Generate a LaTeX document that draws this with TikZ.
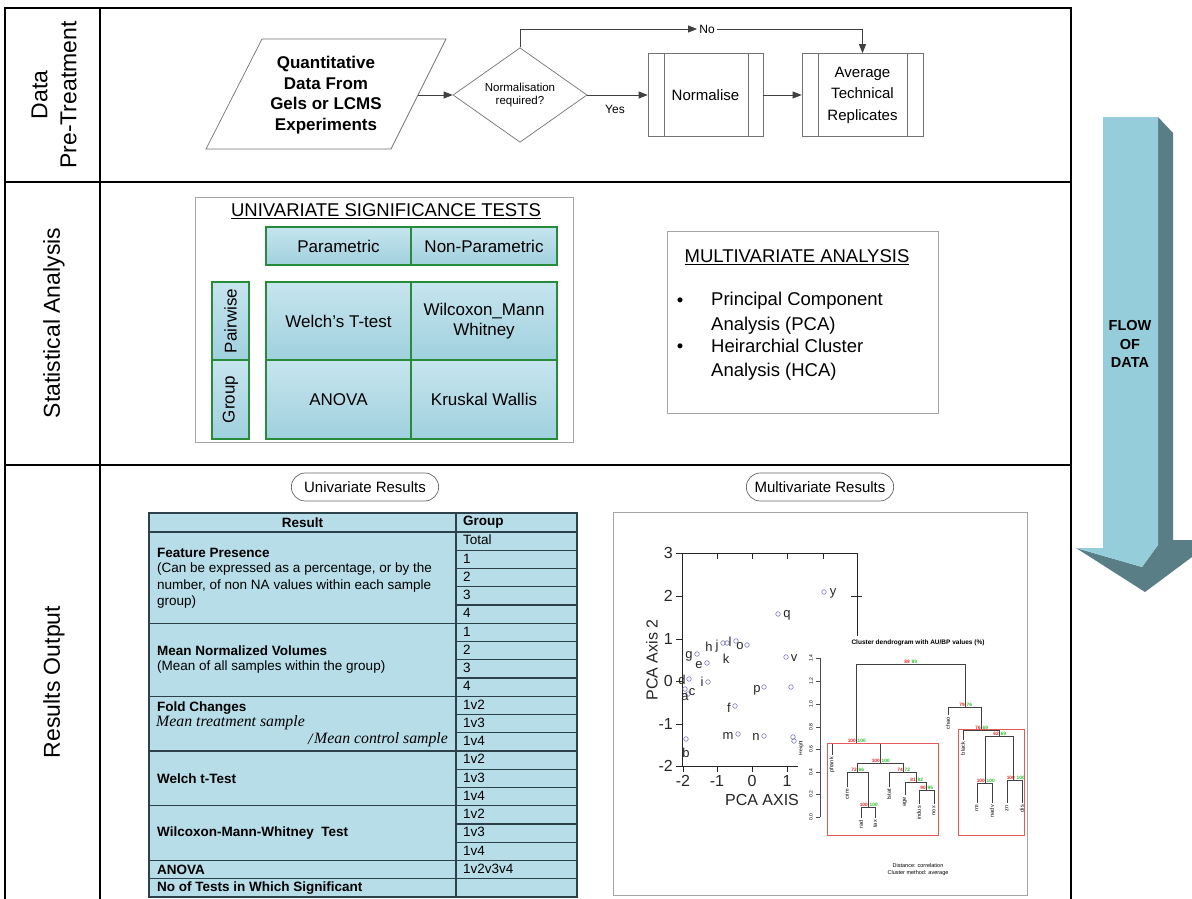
\documentclass[tikz,border=0pt]{standalone}
\usepackage{fontspec}
\setmainfont{Liberation Sans}
\newfontfamily\fmlfont{Liberation Serif}
\usetikzlibrary{shapes.geometric,shapes.misc,arrows.meta}
\definecolor{cellblue}{RGB}{160,208,222}
\definecolor{cellblueL}{RGB}{198,229,238}
\definecolor{cellgreen}{RGB}{38,140,58}
\definecolor{tblblue}{RGB}{182,221,232}
\definecolor{tblline}{RGB}{45,65,75}
\definecolor{arrlight}{RGB}{150,205,219}
\definecolor{arrdark}{RGB}{90,126,134}
\definecolor{ptcol}{RGB}{100,100,175}
\definecolor{aured}{RGB}{225,40,40}
\definecolor{bpgreen}{RGB}{40,190,40}
\definecolor{boxred}{RGB}{228,90,90}
\definecolor{lightframe}{RGB}{165,165,165}
\newcommand{\fsz}[2]{\fontsize{#1}{#2}\selectfont}
\tikzset{
  frameline/.style={line width=1.6pt, draw=black},
  rowlabel/.style={rotate=90, align=center, font=\fsz{23}{29}},
  flowline/.style={draw=black!75, line width=0.7pt},
  flowarrow/.style={flowline, -{Triangle[length=9pt,width=7pt]}},
  procbox/.style={draw=black!55, line width=0.7pt, rectangle, minimum width=#1, minimum height=83pt, inner sep=0pt, align=center, font=\fsz{15}{21.5}},
  cell/.style={draw=cellgreen, line width=1.5pt, top color=cellblueL, bottom color=cellblue, inner sep=0pt, align=center, font=\fsz{17}{20}},
  graybox/.style={draw=lightframe, line width=0.8pt, inner sep=0pt},
  pill/.style={draw=black!60, line width=0.7pt, rounded rectangle, minimum width=154pt, minimum height=28pt, font=\fsz{15}{18}},
  tline/.style={draw=tblline, line width=1.2pt},
  tbl/.style={anchor=west, inner sep=0pt, font=\fsz{13.5}{16.5}, align=left},
  tblb/.style={tbl, font=\fsz{13.5}{16.5}\bfseries},
  grp/.style={anchor=west, inner sep=0pt, font=\fsz{13.5}{16}},
  pcaax/.style={draw=black!85, line width=1pt},
  pt/.style={draw=ptcol, line width=0.5pt},
  ptl/.style={inner sep=0pt, font=\fsz{13}{14}, text=black!85},
  tick/.style={inner sep=0pt, font=\fsz{16}{17}, text=black!85},
  dline/.style={draw=black!75, line width=0.8pt},
  leaf/.style={rotate=90, anchor=east, inner sep=0pt, font=\fsz{5.5}{6}},
  au/.style={inner sep=0pt, font=\fsz{4.8}{5}\bfseries},
  tiny/.style={inner sep=0pt, font=\fsz{5.5}{7}},
}
\begin{document}
\begin{tikzpicture}[x=1pt,y=-1pt]
\useasboundingbox (0,0) rectangle (1192,899);
\fill[white] (0,0) rectangle (1192,899);

% ---------------- frame ----------------
\draw[frameline] (5,8) rectangle (1071,910);
\draw[frameline] (100,8) -- (100,910);
\draw[frameline] (5,182) -- (1071,182);
\draw[frameline] (5,465) -- (1071,465);
\node[rowlabel] (lab1) at (54,95) {Data\\Pre-Treatment};
\node[rowlabel] (lab2) at (54,323) {Statistical Analysis};
\node[rowlabel] (lab3) at (54,682) {Results Output};

% ---------------- row 1: pre-treatment flow ----------------
\draw[draw=black!55, line width=0.7pt] (262,39) -- (446,39) -- (391,149) -- (206,149) -- cycle;
\node[align=center, font=\fsz{17}{20.7}\bfseries] (src) at (326,95) {Quantitative\\Data From\\Gels or LCMS\\Experiments};
\coordinate (srcR) at (418,95);
\node[diamond, draw=black!55, line width=0.7pt, minimum width=134pt, minimum height=82pt, inner sep=0pt, align=center, font=\fsz{11.5}{13.5}] (dia) at (520,95) {Normalisation\\required?};
\node[procbox=115pt] (norm) at (705.5,95) {Normalise};
\draw[draw=black!55, line width=0.7pt] ([xshift=17pt]norm.north west) -- ([xshift=17pt]norm.south west);
\draw[draw=black!55, line width=0.7pt] ([xshift=-15pt]norm.north east) -- ([xshift=-15pt]norm.south east);
\node[procbox=121pt] (avg) at (862.5,95) {Average\\Technical\\Replicates};
\draw[draw=black!55, line width=0.7pt] ([xshift=17pt]avg.north west) -- ([xshift=17pt]avg.south west);
\draw[draw=black!55, line width=0.7pt] ([xshift=-16pt]avg.north east) -- ([xshift=-16pt]avg.south east);
\draw[flowarrow] (srcR) -- (dia.west);
\draw[flowarrow] (dia.east) -- (norm.west);
\node[font=\fsz{12}{14}, inner sep=0pt] (yes) at (615,109) {Yes};
\draw[flowarrow] (norm.east) -- (avg.west);
\node[font=\fsz{12}{14}, inner sep=2pt] (no) at (707,29) {No};
\draw[flowarrow] (dia.north) |- (no.west);
\draw[flowarrow] (no.east) -| (avg.north);

% ---------------- row 2: statistical analysis ----------------
\node[graybox, minimum width=378pt, minimum height=245pt] (uni) at (384,319.5) {};
\node[font=\fsz{18.5}{20}, inner sep=0pt] (uniT) at (386,211) {\underline{UNIVARIATE SIGNIFICANCE TESTS}};
\node[cell, minimum width=145pt, minimum height=38pt] (par) at (338.5,246) {Parametric};
\node[cell, minimum width=146pt, minimum height=38pt] (npar) at (484,246) {Non-Parametric};
\node[cell, rotate=90, minimum width=78pt, minimum height=37pt] (pair) at (230.5,321) {Pairwise};
\node[cell, rotate=90, minimum width=79pt, minimum height=37pt] (grpc) at (230.5,399.5) {Group};
\node[cell, minimum width=145pt, minimum height=78pt] (welch) at (338.5,321) {Welch’s T-test};
\node[cell, minimum width=146pt, minimum height=78pt] (wmw) at (484,321) {Wilcoxon\_Mann\\Whitney};
\node[cell, minimum width=145pt, minimum height=79pt] (anova) at (338.5,399.5) {ANOVA};
\node[cell, minimum width=146pt, minimum height=79pt] (kw) at (484,399.5) {Kruskal Wallis};

\node[graybox, minimum width=271pt, minimum height=182pt] (multi) at (802.5,322) {};
\node[font=\fsz{18.5}{20}, inner sep=0pt] (multiT) at (797,257) {\underline{MULTIVARIATE ANALYSIS}};
\node[font=\fsz{18.5}{20}, inner sep=0pt] (b1) at (680,302) {•};
\node[font=\fsz{18.5}{20}, inner sep=0pt] (b2) at (680,348) {•};
\node[font=\fsz{18.5}{24.5}, inner sep=0pt, anchor=west, align=left] (m1) at (711,313) {Principal Component\\Analysis (PCA)};
\node[font=\fsz{18.5}{24.5}, inner sep=0pt, anchor=west, align=left] (m2) at (711,359.5) {Heirarchial Cluster\\Analysis (HCA)};

% ---------------- flow of data arrow ----------------
\fill[arrdark] (1158,117) -- (1173,133) -- (1173,540) -- (1192,540) -- (1192,557) -- (1145,592) -- (1076,548) -- (1142,567) -- (1158,545) -- cycle;
\fill[arrlight] (1103,117) -- (1158,117) -- (1158,545) -- (1142,567) -- (1076,548) -- (1103,548) -- cycle;
\node[align=center, font=\fsz{14.5}{18.5}\bfseries, inner sep=0pt] (flow) at (1130,344) {FLOW\\OF\\DATA};

% ---------------- row 3: results ----------------
\node[pill] (ures) at (365,487) {Univariate Results};
\node[pill] (mres) at (820,487) {Multivariate Results};

% table
\fill[tblblue] (149,513) rectangle (577,897);
\foreach \i in {1,...,19} \draw[tline] (456,{532+\i*18.25}) -- (577,{532+\i*18.25});
\foreach \i in {5,9,12,15,18,19} \draw[tline] (149,{532+\i*18.25}) -- (456,{532+\i*18.25});
\draw[tline] (149,532) -- (577,532);
\draw[tline] (456,513) -- (456,897);
\draw[tline] (149,513) rectangle (577,897);
\node[font=\fsz{13.5}{16}\bfseries, inner sep=0pt] (hres) at (302.5,522.5) {Result};
\node[grp, font=\fsz{13.5}{16}\bfseries] (hgrp) at (463,522.5) {Group};
\foreach \g [count=\i from 0] in {Total,1,2,3,4,1,2,3,4,1v2,1v3,1v4,1v2,1v3,1v4,1v2,1v3,1v4,1v2v3v4}
  \node[grp] (g\i) at (463,{532+(\i+0.5)*18.25-1}) {\g};
\node[tblb] (fp) at (157,553) {Feature Presence};
\node[tbl] (fpt) at (157,586) {(Can be expressed as a percentage, or by the\\number, of non NA values within each sample\\group)};
\node[tblb] (mn) at (157,651) {Mean Normalized Volumes};
\node[tbl] (mnt) at (157,667) {(Mean of all samples within the group)};
\node[tblb] (fc) at (157,708) {Fold Changes};
\node[tbl, font=\fsz{15.8}{16}\fmlfont\itshape] (fnum) at (156,723) {Mean treatment sample};
\node[tbl, font=\fsz{16}{16}\fmlfont\itshape] (fsl) at (308,739) {/};
\node[tbl, font=\fsz{15.8}{16}\fmlfont\itshape] (fden) at (314,740) {Mean control sample};
\node[tblb] (wt) at (157,778.5) {Welch t-Test};
\node[tblb] (wm) at (157,833.5) {Wilcoxon-Mann-Whitney\ \ Test};
\node[tblb] (an) at (157,870) {ANOVA};
\node[tblb] (nt) at (157,888) {No of Tests in Which Significant};

% multivariate image
\node[graybox, minimum width=414pt, minimum height=383pt] (img) at (820,703.5) {};
% PCA plot
\draw[pcaax] (682,766) -- (682,553) -- (857,553) -- (857,640);
\draw[pcaax] (682,766) -- (800,766);
\foreach \yy/\lab in {553/3,596/2,639/1,681/0,724/-1,766/-2} {
  \draw[pcaax] (682,\yy) -- (676,\yy);
  \node[tick, anchor=east] at (673,\yy) {\lab};
}
\foreach \xx/\lab in {683/-2,717/-1,752/0,787/1} {
  \draw[pcaax] (\xx,766) -- (\xx,772);
  \node[tick, anchor=north] at (\xx,775) {\lab};
}
\foreach \xx in {717,752,787,823} \draw[pcaax] (\xx,553) -- (\xx,559);
\draw[pcaax] (851,596) -- (862,596);
\node[rotate=90, font=\fsz{16}{18}, text=black!85, inner sep=0pt] (pya) at (652,660) {PCA Axis 2};
\node[font=\fsz{16}{18}, text=black!85, inner sep=0pt] (pxa) at (762,800) {PCA AXIS};
\foreach \cx/\cy in {824/592,778/614,723/643,727/643,736/641,747/645,697/654,707/663,786/657,689/679,708/682,685/689,688/694,764/687,791/687,735/706,738/734,764/736,793/737,794/741,686/739}
  \draw[pt] (\cx,\cy) circle (2.3pt);
\foreach \lx/\ly/\lt in {833/593/y,787/615/q,709/647/h,717/646/j,730/642/l,740/646/o,689/656/g,699/665/e,726/659/k,794/658/v,682/680/d,702/682/i,692/692/c,685/697/a,757/690/p,729/708/f,728/736/m,756/737/n,686/753/b}
  \node[ptl] at (\lx,\ly) {\lt};

% dendrogram panel
\fill[white] (798,636) rectangle (1025,893);
\node[font=\fsz{6.5}{7}\bfseries, inner sep=0pt] (dt) at (918,643) {Cluster dendrogram with AU/BP values (\%)};
\draw[draw=black!70, line width=0.5pt] (820,658) -- (820,817);
\foreach \yy/\lab in {658/1.4,681/1.2,704/1.0,727/0.8,749/0.6,772/0.4,794/0.2,817/0.0} {
  \draw[draw=black!70, line width=0.5pt] (820,\yy) -- (816,\yy);
  \node[rotate=90, font=\fsz{5}{6}, inner sep=0pt] at (811,\yy) {\lab};
}
\node[rotate=90, font=\fsz{5}{6}, inner sep=0pt] (hgt) at (801,748) {Height};
% tree
\draw[dline] (856,743) |- (965,664) -- (965,707);
\draw[dline] (948,715) |- (981,707) -- (981,730);
\draw[dline] (963,740) |- (999,730) -- (999,736);
\draw[dline] (985,783) |- (1013,736) -- (1013,780);
\draw[dline] (977,803) |- (992,783) -- (992,803);
\draw[dline] (1007,803) |- (1022,780) -- (1022,803);
\draw[dline] (832,755) |- (880,743) -- (880,763);
\draw[dline] (857,772) |- (903,763) -- (903,772);
\draw[dline] (847,787) |- (868,772) -- (868,807);
\draw[dline] (861,818) |- (875,807) -- (875,818);
\draw[dline] (889,787) |- (916,772) -- (916,782);
\draw[dline] (905,795) |- (926,782) -- (926,790);
\draw[dline] (919,804) |- (934,790) -- (934,804);
\foreach \lx/\ly/\lt in {948/717/chao,963/742/black,977/805/rm,992/805/nadv,1007/805/zn,1022/805/dis,832/757/pfrank,847/789/crim,861/820/rad,875/820/tax,889/789/lstat,905/797/age,919/806/indus,934/806/nox}
  \node[leaf] at (\lx,\ly) {\lt};
\foreach \nx/\ny/\a/\b in {910/664/89/89,965/707/79/76,981/730/76/69,999/736/62/69,985/783/100/100,1015/780/100/100,856/743/100/100,880/763/100/100,857/772/72/66,868/807/100/100,903/772/74/72,916/782/81/82,926/790/90/95} {
  \node[au, text=aured, anchor=south east] at (\nx,\ny-0.5) {\a};
  \node[au, text=bpgreen, anchor=south west] at (\nx+1.5,\ny-0.5) {\b};
}
\draw[draw=boxred, line width=0.8pt] (827,743) rectangle (938,835);
\draw[draw=boxred, line width=0.8pt] (958,729) rectangle (1024,835);
\node[tiny] (dist) at (918,866) {Distance: correlation};
\node[tiny] (meth) at (918,873) {Cluster method: average};
\end{tikzpicture}
\end{document}
